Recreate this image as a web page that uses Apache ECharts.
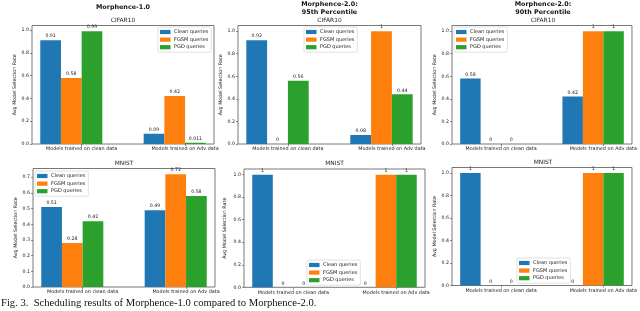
<!DOCTYPE html>
<html><head><meta charset="utf-8">
<script src="https://cdn.jsdelivr.net/npm/echarts@6/dist/echarts.min.js"></script>
<style>html,body{margin:0;padding:0;background:#fff}#c{width:640px;height:311px}</style>
</head><body><div id="c"></div>
<script>
// ---------- data ----------
const seriesNames = ['Clean queries', 'FGSM queries', 'PGD queries'];
const categories = ['Models trained on clean data', 'Models trained on Adv data'];

const m1CifarClean = [0.91, 0.09];
const m1CifarFgsm  = [0.58, 0.42];
const m1CifarPgd   = [0.99, 0.011];

const m95CifarClean = [0.92, 0.08];
const m95CifarFgsm  = [0, 1];
const m95CifarPgd   = [0.56, 0.44];

const m90CifarClean = [0.58, 0.42];
const m90CifarFgsm  = [0, 1];
const m90CifarPgd   = [0, 1];

const m1MnistClean = [0.51, 0.49];
const m1MnistFgsm  = [0.28, 0.72];
const m1MnistPgd   = [0.42, 0.58];

const m95MnistClean = [1, 0];
const m95MnistFgsm  = [0, 1];
const m95MnistPgd   = [0, 1];

const m90MnistClean = [1, 0];
const m90MnistFgsm  = [0, 1];
const m90MnistPgd   = [0, 1];

const yTicksRate = [0, 0.2, 0.4, 0.6, 0.8, 1.0];
const yTicksM1Mnist = [0, 0.1, 0.2, 0.3, 0.4, 0.5, 0.6, 0.7];

const columnTitles = [['Morphence-1.0'], ['Morphence-2.0:', '95th Percentile'], ['Morphence-2.0:', '90th Percentile']];
const rowTitles = ['CIFAR10', 'MNIST'];
const yAxisName = 'Avg Model Selection Rate';
const caption = 'Fig. 3.  Scheduling results of Morphence-1.0 compared to Morphence-2.0.';

// ---------- layout / style ----------
const colors = ['#1f77b4', '#ff7f0e', '#2ca02c'];
const FONT = '"DejaVu Sans", sans-serif';
const TICK_SHIFT = 0.1;

const panels = [
  { data: [m1CifarClean, m1CifarFgsm, m1CifarPgd], yTicks: yTicksRate, row: 0, col: 0,
    grid: { left: 32, top: 25.5, width: 182, height: 118.5 }, legend: { left: 158, top: 27 }, nameGap: 14.5 },
  { data: [m95CifarClean, m95CifarFgsm, m95CifarPgd], yTicks: yTicksRate, row: 0, col: 1,
    grid: { left: 238, top: 25.5, width: 183, height: 118.5 }, legend: { left: 304, top: 27 }, nameGap: 13.5 },
  { data: [m90CifarClean, m90CifarFgsm, m90CifarPgd], yTicks: yTicksRate, row: 0, col: 2,
    grid: { left: 452, top: 25.5, width: 182, height: 118.5 }, legend: { left: 454, top: 27 }, nameGap: 14.5 },
  { data: [m1MnistClean, m1MnistFgsm, m1MnistPgd], yTicks: yTicksM1Mnist, row: 1, col: 0,
    grid: { left: 33, top: 168.5, width: 182, height: 118.5 }, legend: { left: 35, top: 171 }, nameGap: 13.5 },
  { data: [m95MnistClean, m95MnistFgsm, m95MnistPgd], yTicks: yTicksRate, row: 1, col: 1,
    grid: { left: 244, top: 169, width: 181, height: 118.3 }, legend: { left: 307, top: 260 }, nameGap: 16.5 },
  { data: [m90MnistClean, m90MnistFgsm, m90MnistPgd], yTicks: yTicksRate, row: 1, col: 2,
    grid: { left: 452, top: 167.5, width: 182, height: 118 }, legend: { left: 517, top: 258 }, nameGap: 13 }
];

const grids = [], xAxes = [], yAxes = [], series = [], legends = [], graphics = [];
const tickPos = categories.map((c, k) => k + TICK_SHIFT);

panels.forEach((p, i) => {
  grids.push(Object.assign({ show: true, borderColor: '#555', borderWidth: 0.8, backgroundColor: '#fff', containLabel: false }, p.grid));
  const maxVal = Math.max(...p.data.flat()) * 1.05;
  xAxes.push({
    type: 'value', gridIndex: i, min: -0.38, max: 1.38, position: 'bottom',
    axisLine: { show: false, onZero: false }, splitLine: { show: false },
    axisTick: { show: true, customValues: tickPos, length: 2, lineStyle: { color: '#444', width: 0.6 } },
    axisLabel: { customValues: tickPos, margin: 2.5, fontSize: 4.9, color: '#222', fontFamily: FONT,
      formatter: v => categories[Math.round(v - TICK_SHIFT)] }
  });
  yAxes.push({
    type: 'value', gridIndex: i, min: 0, max: maxVal, position: 'left',
    axisLine: { show: false, onZero: false }, splitLine: { show: false },
    axisTick: { show: true, customValues: p.yTicks, length: 2, lineStyle: { color: '#444', width: 0.6 } },
    axisLabel: { customValues: p.yTicks, margin: 3, fontSize: 4.7, color: '#222', fontFamily: FONT,
      formatter: v => v.toFixed(1) },
    name: yAxisName, nameLocation: 'middle', nameGap: p.nameGap,
    nameTextStyle: { fontSize: 4.8, color: '#222', fontFamily: FONT }
  });
  p.data.forEach((vals, s) => {
    series.push({
      type: 'bar', name: seriesNames[s], xAxisIndex: i, yAxisIndex: i,
      data: categories.map((c, k) => [k, vals[k]]),
      barWidth: '20%', barGap: '0%',
      itemStyle: { color: colors[s] },
      label: { show: true, position: 'top', distance: 1.5, fontSize: 4.7, color: '#222', fontFamily: FONT,
        formatter: q => String(q.value[1]) }
    });
  });
  legends.push({
    data: seriesNames, orient: 'vertical', left: p.legend.left, top: p.legend.top,
    icon: 'rect', itemWidth: 10.5, itemHeight: 4.2, itemGap: 2.6,
    padding: [2.5, 3, 2.5, 2], backgroundColor: 'rgba(255,255,255,0.85)',
    borderColor: '#cfcfcf', borderWidth: 0.6, borderRadius: 1.5, selectedMode: false,
    textStyle: { fontSize: 5, lineHeight: 5, color: '#222', fontFamily: FONT, padding: [0, 0, 0, -1.5] }
  });
  const cx = p.grid.left + p.grid.width / 2;
  graphics.push({ type: 'text', x: cx, y: p.grid.top - 5.2,
    style: { text: rowTitles[p.row], fontSize: 5.9, fontFamily: FONT, fill: '#222', align: 'center', verticalAlign: 'middle' } });
  if (p.row === 0) {
    const t = columnTitles[p.col];
    if (t.length === 1) {
      graphics.push({ type: 'text', x: cx, y: 7,
        style: { text: t[0], fontSize: 6.4, fontWeight: 'bold', fontFamily: FONT, fill: '#111', align: 'center', verticalAlign: 'middle' } });
    } else {
      t.forEach((line, j) => graphics.push({ type: 'text', x: cx, y: 4.6 + j * 7.7,
        style: { text: line, fontSize: 6.4, fontWeight: 'bold', fontFamily: FONT, fill: '#111', align: 'center', verticalAlign: 'middle' } }));
    }
  }
});

graphics.push({ type: 'text', x: 1, y: 303.5,
  style: { text: caption, fontSize: 10.6, fontFamily: '"Liberation Serif", serif', fill: '#111', align: 'left', verticalAlign: 'middle' } });

const chart = echarts.init(document.getElementById('c'), null, { renderer: 'canvas' });
chart.setOption({
  animation: false,
  color: colors,
  grid: grids, xAxis: xAxes, yAxis: yAxes, series: series, legend: legends,
  graphic: graphics
});
</script></body></html>
